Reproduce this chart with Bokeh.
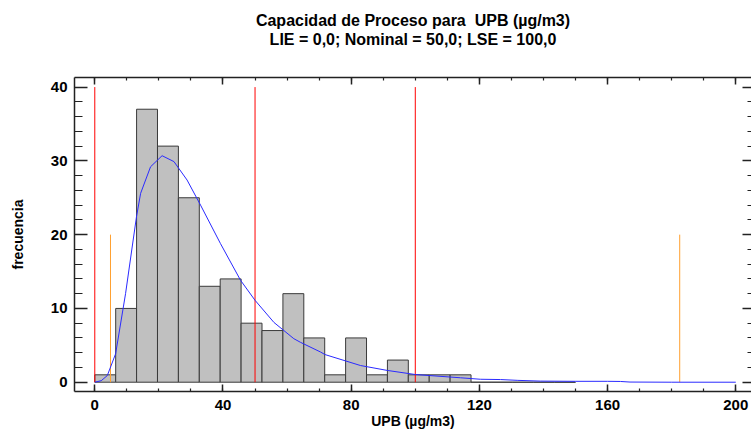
from bokeh.plotting import figure
from bokeh.models import LinearAxis, Title, Range1d, SingleIntervalTicker
from bokeh.embed import file_html
from bokeh.resources import INLINE

# ---- data ----
bin_width = 150 / 23
counts = [1, 10, 37, 32, 25, 13, 14, 8, 7, 12, 6, 1, 6, 1, 3, 1, 1, 1, 0, 0, 0, 0, 0]
bin_left = [i * bin_width for i in range(len(counts))]
bin_right = [(i + 1) * bin_width for i in range(len(counts))]

curve_x = [0, 2, 3.9, 6.5, 9.6, 13.0, 14.3, 17.4, 21.0, 24.7, 28.8, 33.0, 39.2, 45.5, 50.0,
           55.9, 62.1, 64.2, 70.4, 71.8, 82.9, 91.2, 100.0, 114.1, 120.3, 126.6, 132.0,
           139.0, 150.0, 160.0, 164.0, 167.0, 180.0, 200.0]
curve_y = [0, 0.2, 0.9, 3.85, 12.0, 22.4, 25.6, 29.2, 30.7, 29.9, 27.4, 24.0, 18.8, 13.8, 11.1,
           8.1, 5.9, 5.4, 4.1, 3.75, 2.26, 1.6, 1.04, 0.6, 0.4, 0.36, 0.25,
           0.15, 0.12, 0.12, 0.1, 0.02, 0.0, 0.0]

spec_x = [0.0, 50.0, 100.0]      # LIE, Nominal, LSE
spec_top = [40, 40, 40]
sigma_x = [4.9, 182.5]           # natural tolerance limits
sigma_top = [20, 20]

title1 = "Capacidad de Proceso para \u00a0UPB (µg/m3)"
title2 = "LIE = 0,0; Nominal = 50,0; LSE = 100,0"
xlabel = "UPB (µg/m3)"
ylabel = "frecuencia"

FONT = "Liberation Sans"
AX = "#222222"

p = figure(width=751, height=438, output_backend="svg", toolbar_location=None,
           x_range=Range1d(-6.33, 204.9), y_range=Range1d(-1.26, 41.3),
           min_border_left=74, min_border_right=0, min_border_bottom=47, min_border_top=77)
p.outline_line_color = None
p.xgrid.visible = False
p.ygrid.visible = False
p.background_fill_color = "white"
p.border_fill_color = "white"

# bars
p.quad(left=bin_left, right=bin_right, bottom=[0] * len(counts), top=counts,
       fill_color="#c0c0c0", line_color="#3a3a3a", line_width=1)

# spec lines
p.segment(x0=spec_x, x1=spec_x, y0=[0] * 3, y1=spec_top, line_color="#ff0000", line_width=1)
p.segment(x0=sigma_x, x1=sigma_x, y0=[0] * 2, y1=sigma_top, line_color="#ffa030", line_width=1)

# fitted curve
p.line(curve_x, curve_y, line_color="#2a2aff", line_width=1)

def style(ax, maj_in, min_in, labels=True):
    ax.axis_line_color = AX
    ax.axis_line_width = 1.5
    ax.major_tick_line_color = AX
    ax.minor_tick_line_color = AX
    ax.major_tick_line_width = 1.5
    ax.minor_tick_line_width = 1.2
    ax.major_tick_in = maj_in
    ax.major_tick_out = 0
    ax.minor_tick_in = min_in
    ax.minor_tick_out = 0
    if labels:
        ax.major_label_text_font = FONT
        ax.major_label_text_font_style = "bold"
        ax.major_label_text_font_size = "15px"
        ax.major_label_text_color = "black"
        ax.axis_label_text_font = FONT
        ax.axis_label_text_font_style = "bold"
        ax.axis_label_text_font_size = "14px"
        ax.axis_label_text_color = "black"
    else:
        ax.major_label_text_color = None
        ax.major_label_text_font_size = "1px"
        ax.major_label_standoff = 0
        ax.axis_label_standoff = 0

xa = p.xaxis[0]
xa.ticker = SingleIntervalTicker(interval=40, num_minor_ticks=4)
style(xa, 7, 3)
xa.major_label_standoff = 8
xa.axis_label = xlabel
xa.axis_label_standoff = 0

ya = p.yaxis[0]
ya.ticker = SingleIntervalTicker(interval=10, num_minor_ticks=5)
style(ya, 13, 8)
ya.major_label_standoff = 7
ya.axis_label = ylabel
ya.axis_label_standoff = 22

top = LinearAxis(ticker=SingleIntervalTicker(interval=40, num_minor_ticks=4))
style(top, 7, 3, labels=False)
p.add_layout(top, "above")

# invisible spacer between the frame and the titles
spacer = LinearAxis(ticker=SingleIntervalTicker(interval=40, num_minor_ticks=0))
style(spacer, 0, 0, labels=False)
spacer.axis_line_color = None
spacer.major_tick_line_color = None
spacer.minor_tick_line_color = None
spacer.major_tick_out = 30
p.add_layout(spacer, "above")

right = LinearAxis(ticker=SingleIntervalTicker(interval=10, num_minor_ticks=5))
style(right, 9, 4, labels=False)
right.axis_line_color = None
p.add_layout(right, "right")

t2 = Title(text=title2, align="center", text_font=FONT, text_font_style="bold",
           text_font_size="16px", standoff=0, text_color="black")
p.add_layout(t2, "above")
t1 = Title(text=title1, align="center", text_font=FONT, text_font_style="bold",
           text_font_size="16px", standoff=0, text_color="black")
p.add_layout(t1, "above")

open("out.html", "w").write(file_html(p, INLINE))
